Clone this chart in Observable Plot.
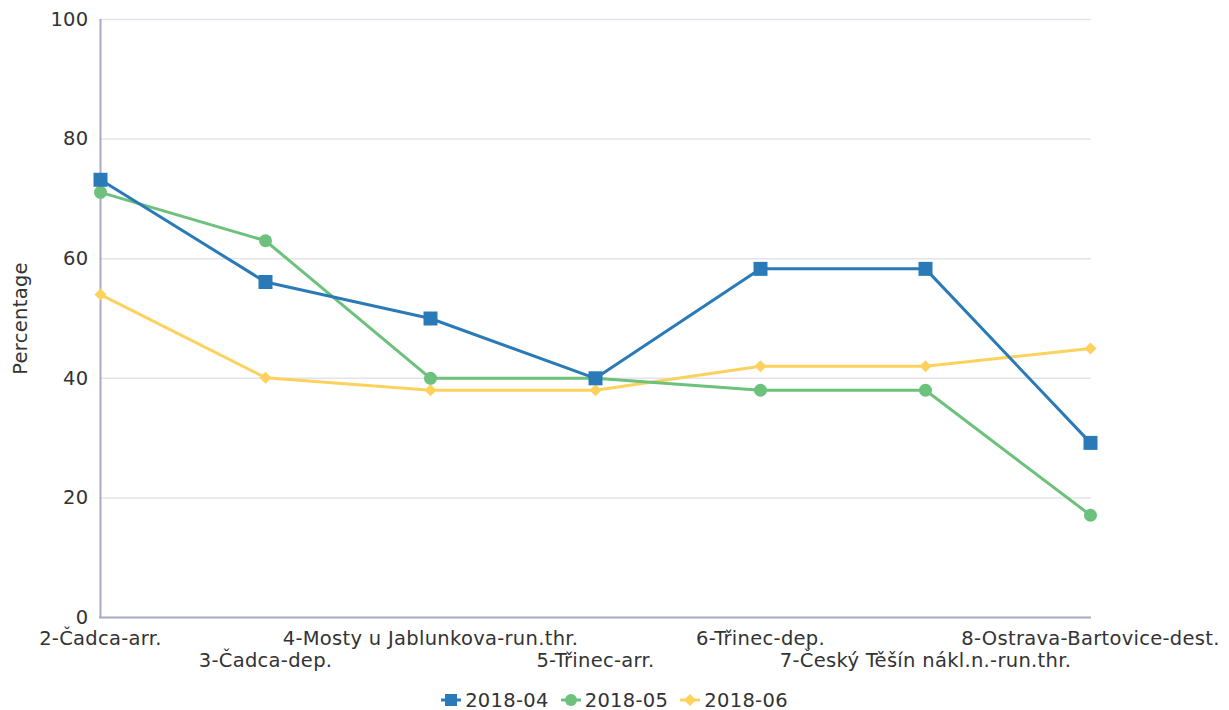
<!DOCTYPE html>
<html>
<head>
<meta charset="utf-8">
<script src="https://cdn.jsdelivr.net/npm/d3@7"></script>
<script src="https://cdn.jsdelivr.net/npm/@observablehq/plot@0.6"></script>
<style>
  body { margin: 0; background: #fff; font-family: "DejaVu Sans", sans-serif; }
  #legend { display: flex; justify-content: center; align-items: center; height: 30px; font-size: 19.5px; letter-spacing: 0.3px; color: #333; }
  #legend .item { display: flex; align-items: center; margin: 0 6px; }
  #legend svg { margin-right: 4px; }
  svg text { letter-spacing: 0.3px; }
</style>
</head>
<body>
<div id="chart"></div>
<div id="legend"></div>
<script>
const categories = ["2-Čadca-arr.", "3-Čadca-dep.", "4-Mosty u Jablunkova-run.thr.", "5-Třinec-arr.", "6-Třinec-dep.", "7-Český Těšín nákl.n.-run.thr.", "8-Ostrava-Bartovice-dest."];
const seriesNames = ["2018-04", "2018-05", "2018-06"];
const v2018_04 = [73.2, 56.1, 50.0, 40.0, 58.3, 58.3, 29.2];
const v2018_05 = [71.1, 63.0, 40.0, 40.0, 38.0, 38.0, 17.1];
const v2018_06 = [54.0, 40.1, 38.0, 38.0, 42.0, 42.0, 45.0];
const yTicks = [0, 20, 40, 60, 80, 100];
const colors = ["#2a7ab8", "#6cc17c", "#fcd25c"];

const allValues = [v2018_04, v2018_05, v2018_06];
const rows = [];
seriesNames.forEach((s, si) => categories.forEach((c, i) => rows.push({series: s, cat: c, value: allValues[si][i]})));
const bySeries = s => rows.filter(r => r.series === s);
const fs = 19.5;
const axisColor = "#a9a9c9";

const chart = Plot.plot({
  width: 1229,
  height: 685,
  marginLeft: 99,
  marginRight: 138,
  marginTop: 19,
  marginBottom: 68,
  style: {fontFamily: "DejaVu Sans, sans-serif", fontSize: fs + "px", color: "#333"},
  x: {type: "point", domain: categories, padding: 0, axis: null},
  y: {domain: [0, 100], axis: null},
  marks: [
    Plot.gridY(yTicks, {stroke: "#e3e3ec", strokeOpacity: 1, strokeWidth: 1.5}),
    Plot.text(yTicks, {y: d => d, frameAnchor: "left", dx: -11, textAnchor: "end", lineAnchor: "middle", fontSize: fs, fill: "#333"}),
    Plot.text(["Percentage"], {frameAnchor: "left", dx: -79, rotate: -90, textAnchor: "middle", lineAnchor: "middle", fontSize: fs, fill: "#333"}),
    Plot.ruleY([0], {stroke: axisColor, strokeWidth: 2}),
    Plot.ruleX([categories[0]], {stroke: axisColor, strokeWidth: 2}),
    Plot.text(categories.filter((d, i) => i % 2 === 0), {x: d => d, frameAnchor: "bottom", dy: 21, lineAnchor: "middle", fontSize: fs, fill: "#333"}),
    Plot.text(categories.filter((d, i) => i % 2 === 1), {x: d => d, frameAnchor: "bottom", dy: 43, lineAnchor: "middle", fontSize: fs, fill: "#333"}),
    Plot.lineY(bySeries("2018-06"), {x: "cat", y: "value", stroke: colors[2], strokeWidth: 3}),
    Plot.dot(bySeries("2018-06"), {x: "cat", y: "value", symbol: "square", r: 4.8, rotate: 45, fill: colors[2]}),
    Plot.lineY(bySeries("2018-05"), {x: "cat", y: "value", stroke: colors[1], strokeWidth: 3}),
    Plot.dot(bySeries("2018-05"), {x: "cat", y: "value", r: 6.5, fill: colors[1]}),
    Plot.lineY(bySeries("2018-04"), {x: "cat", y: "value", stroke: colors[0], strokeWidth: 3}),
    Plot.dot(bySeries("2018-04"), {x: "cat", y: "value", symbol: "square", r: 7.9, fill: colors[0]})
  ]
});
document.getElementById("chart").appendChild(chart);

const legend = document.getElementById("legend");
const shapes = [
  c => `<rect x="4" y="1" width="12" height="12" fill="${c}"/>`,
  c => `<circle cx="10" cy="7" r="6" fill="${c}"/>`,
  c => `<path d="M10 1 L16 7 L10 13 L4 7 Z" fill="${c}"/>`
];
seriesNames.forEach((s, i) => {
  const item = document.createElement("div");
  item.className = "item";
  item.innerHTML = `<svg width="20" height="14"><line x1="0" y1="7" x2="20" y2="7" stroke="${colors[i]}" stroke-width="3"/>${shapes[i](colors[i])}</svg><span>${s}</span>`;
  legend.appendChild(item);
});
</script>
</body>
</html>
